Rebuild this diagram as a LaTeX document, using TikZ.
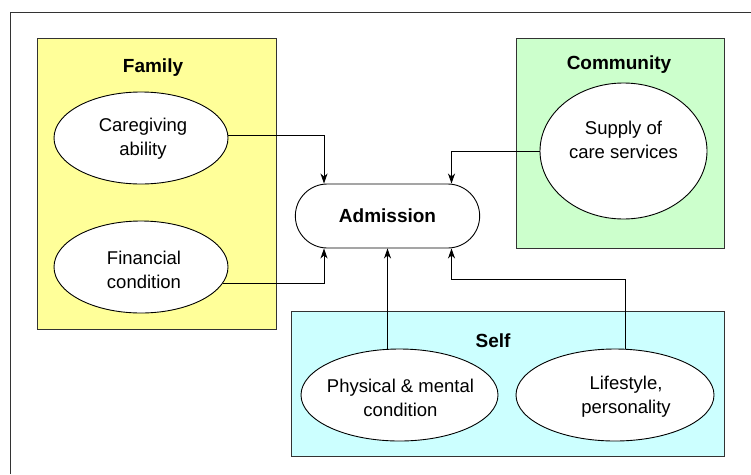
\documentclass[tikz,border=0pt]{standalone}
\usepackage{fontspec}
\setmainfont{Liberation Sans}
\usetikzlibrary{shapes.geometric,shapes.misc,arrows.meta}
\definecolor{famfill}{RGB}{255,255,153}
\definecolor{comfill}{RGB}{204,255,204}
\definecolor{selffill}{RGB}{204,255,255}
\tikzset{group/.style={draw=black!80, line width=1pt},
  title/.style={font=\fontsize{19}{24}\selectfont\bfseries},
  blob/.style={ellipse, draw, fill=white, line width=0.9pt, inner sep=0pt},
  words/.style={align=center, inner sep=0pt, font=\fontsize{18.5}{24}\selectfont},
  flow/.style={line width=0.9pt, -{Stealth[length=10pt,width=7pt,inset=3pt]}}}

\begin{document}
\begin{tikzpicture}[x=1pt,y=-1pt]
   \useasboundingbox (0,0) rectangle (751,474);
   \draw[group] (10,474) -- (10,12.7) -- (751,12.7);
   \begin{scope}
    \draw[group, fill=famfill] (37,38) rectangle (276,329);
    \node[title] (famtitle) at (153,68) {Family};
    \node[blob, minimum width=174, minimum height=92] (care) at (141,138) {};
    \node[words] (caretext) at ([xshift=2pt,yshift=-1pt]care.center) {Caregiving\\ability};
    \node[blob, minimum width=174, minimum height=92] (fin) at (141,267) {};
    \node[words] (fintext) at ([xshift=3pt,yshift=-3pt]fin.center) {Financial\\condition};
   \end{scope}
   \begin{scope}
    \draw[group, fill=comfill] (516,38) rectangle (724,248);
    \node[title] (comtitle) at (619,65) {Community};
    \node[blob, minimum width=167, minimum height=136] (sup) at (623.5,151) {};
    \node[words] (suptext) at ([yshift=11pt]sup.center) {Supply of\\care services};
   \end{scope}
   \begin{scope}
    \draw[group, fill=selffill] (291,311) rectangle (724,456);
    \node[title] (selftitle) at (493,341) {Self};
    \node[blob, minimum width=197, minimum height=92] (phys) at (399.5,395) {};
    \node[words] (phystext) at ([xshift=1pt,yshift=-3pt]phys.center) {Physical \& mental\\condition};
    \node[blob, minimum width=198, minimum height=92] (life) at (615,395) {};
    \node[words] (lifetext) at ([xshift=11pt,yshift=-2pt]life.center) {Lifestyle,\\personality};
   \end{scope}
   \node[rounded rectangle, draw, fill=white, line width=0.9pt, minimum width=191, minimum height=64, title] (adm) at (387.5,216) {Admission};
   \draw[flow] ([yshift=3pt]care.east) -| ([xshift=-63.5pt]adm.north);
   \draw[flow] (fin.-11) -| ([xshift=-63.5pt]adm.south);
   \draw[flow] (sup.west) -| ([xshift=64pt]adm.north);
   \draw[flow] (phys.north -| adm.south) -- (adm.south);
   \draw[flow] ([xshift=10pt]life.north) -- ++(0,-69) -| ([xshift=64pt]adm.south);
\end{tikzpicture}
\end{document}
